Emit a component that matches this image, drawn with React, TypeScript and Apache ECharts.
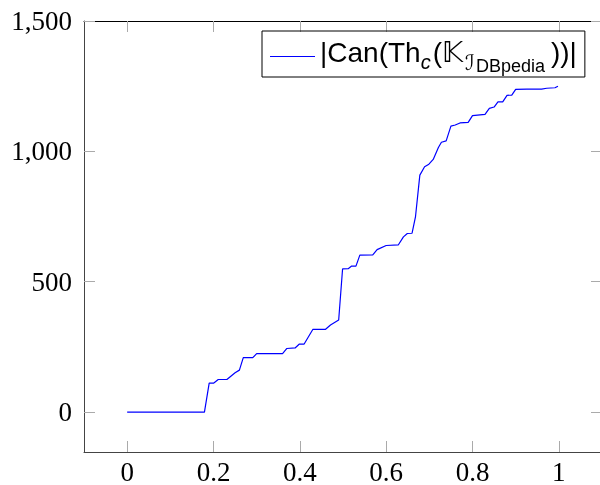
import React, { useEffect, useRef } from "react";
import * as echarts from "echarts";

const seriesName = "|Can(Th_c(K_DBpedia))|";

const xValues = [
  0, 0.179, 0.19, 0.2, 0.211, 0.231, 0.25, 0.26, 0.269, 0.291, 0.3, 0.36, 0.37,
  0.389, 0.399, 0.41, 0.43, 0.459, 0.471, 0.49, 0.499, 0.512, 0.52, 0.53, 0.539,
  0.569, 0.579, 0.6, 0.628, 0.64, 0.649, 0.66, 0.668, 0.678, 0.689, 0.699, 0.709,
  0.721, 0.728, 0.739, 0.75, 0.76, 0.771, 0.79, 0.8, 0.829, 0.839, 0.85, 0.859,
  0.87, 0.88, 0.891, 0.9, 0.926, 0.96, 0.972, 0.991, 0.998,
];
const yValues = [
  0, 0, 111, 111, 125, 125, 151, 161, 209, 209, 224, 224, 244, 246, 261, 261, 317,
  317, 334, 353, 549, 550, 560, 560, 602, 603, 623, 639, 641, 672, 685, 686, 750,
  909, 941, 951, 969, 1015, 1035, 1040, 1097, 1101, 1109, 1111, 1137, 1142, 1165,
  1170, 1190, 1190, 1215, 1216, 1238, 1239, 1239, 1242, 1244, 1250,
];

const xTicks = [0, 0.2, 0.4, 0.6, 0.8, 1];
const xTickLabels = ["0", "0.2", "0.4", "0.6", "0.8", "1"];
const yTicks = [0, 500, 1000, 1500];
const yTickLabels = ["0", "500", "1,000", "1,500"];

const X_MIN = -0.1;
const X_MAX = 1.1;
const Y_MIN = -153;
const Y_MAX = 1500;

export default function App() {
  const ref = useRef<HTMLDivElement>(null);
  useEffect(() => {
    if (!ref.current) return;
    const chart = echarts.init(ref.current, null, { renderer: "svg" });
    const data = xValues.map((x, i) => [x, yValues[i]]);
    const serif = "'Liberation Serif', 'DejaVu Serif', serif";
    const sans = "'Liberation Sans', 'DejaVu Sans', sans-serif";
    const axisLineStyle = { color: "#444", width: 1 };
    const tickStyle = { color: "#aaa", width: 1 };
    const labelStyle = { fontFamily: serif, fontSize: 27, color: "#000" };
    chart.setOption({
      animation: false,
      grid: { left: 84, top: 21, width: 518, height: 431, containLabel: false, outerBoundsMode: "none" },
      xAxis: [
        {
          type: "value",
          min: X_MIN,
          max: X_MAX,
          position: "bottom",
          axisLine: { show: true, onZero: false, lineStyle: axisLineStyle },
          axisTick: { show: true, inside: true, length: 11, lineStyle: tickStyle, customValues: xTicks },
          axisLabel: {
            ...labelStyle,
            margin: 6,
            customValues: xTicks,
            formatter: (v: number) => xTickLabels[xTicks.findIndex((t) => Math.abs(t - v) < 1e-9)] ?? "",
          },
          splitLine: { show: false },
        },
        {
          type: "value",
          min: X_MIN,
          max: X_MAX,
          position: "top",
          axisLine: { show: true, onZero: false, lineStyle: { color: "#000", width: 1 } },
          axisTick: { show: true, inside: true, length: 11, lineStyle: tickStyle, customValues: xTicks },
          axisLabel: { show: false },
          splitLine: { show: false },
        },
      ],
      yAxis: [
        {
          type: "value",
          min: Y_MIN,
          max: Y_MAX,
          position: "left",
          axisLine: { show: true, onZero: false, lineStyle: axisLineStyle },
          axisTick: { show: true, inside: true, length: 11, lineStyle: tickStyle, customValues: yTicks },
          axisLabel: {
            ...labelStyle,
            margin: 12,
            customValues: yTicks,
            formatter: (v: number) => yTickLabels[yTicks.indexOf(v)] ?? "",
          },
          splitLine: { show: false },
        },
        {
          type: "value",
          min: Y_MIN,
          max: Y_MAX,
          position: "right",
          axisLine: { show: false, onZero: false },
          axisTick: { show: true, inside: true, length: 11, lineStyle: tickStyle, customValues: yTicks },
          axisLabel: { show: false },
          splitLine: { show: false },
        },
      ],
      legend: {
        left: 262,
        top: 31,
        orient: "horizontal",
        itemWidth: 45,
        itemHeight: 10.2,
        itemGap: 0,
        padding: [7, 8, 2, 8],
        borderColor: "#000",
        borderWidth: 1,
        borderRadius: 0,
        data: [
          {
            name: seriesName,
            icon: "path://M0,0H45V1.2H0Z M0,10.19H45V10.2H0Z",
            itemStyle: { color: "#0000ff" },
          },
        ],
        formatter: () => "{a||Can(Th}{c|c}{a|(𝕂}{i|ℐ}{d|DBpedia}{e|))|}",
        textStyle: {
          fontFamily: sans,
          fontSize: 28,
          color: "#000",
          rich: {
            a: { fontFamily: sans, fontSize: 28, color: "#000", lineHeight: 28, verticalAlign: "bottom", padding: [0, 0, 9, 0] },
            e: { fontFamily: sans, fontSize: 28, color: "#000", lineHeight: 28, verticalAlign: "bottom", padding: [0, 0, 9, 3] },
            c: { fontFamily: sans, fontSize: 20, fontStyle: "italic", color: "#000", lineHeight: 20, verticalAlign: "bottom", padding: [0, 2, 3, 0] },
            i: { fontFamily: sans, fontSize: 21, color: "#000", lineHeight: 21, verticalAlign: "bottom", padding: [0, 1, 2, 2] },
            d: { fontFamily: sans, fontSize: 18, color: "#000", lineHeight: 18, verticalAlign: "bottom", padding: [0, 3, 0, 0] },
          },
        },
      },
      series: [
        {
          name: seriesName,
          type: "line",
          xAxisIndex: 0,
          yAxisIndex: 0,
          data,
          symbol: "none",
          showSymbol: false,
          lineStyle: { color: "#0000ff", width: 1.2 },
          itemStyle: { color: "#0000ff" },
        },
      ],
    });
    return () => chart.dispose();
  }, []);
  return <div ref={ref} style={{ position: "fixed", left: 0, top: 0, width: 600, height: 485 }} />;
}
